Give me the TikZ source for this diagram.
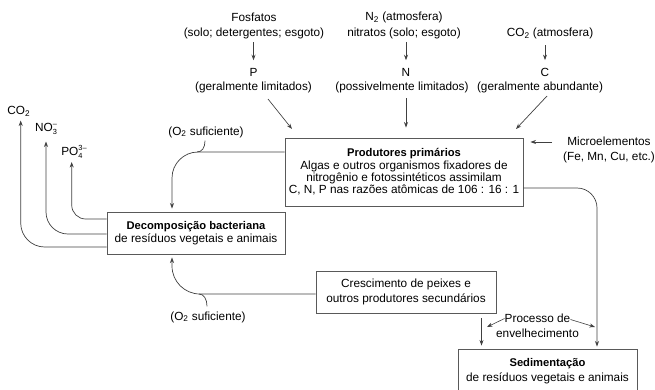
\documentclass[tikz,border=0pt]{standalone}
\usepackage{fontspec}
\setmainfont{Liberation Sans}
\usetikzlibrary{arrows.meta}
\newcommand\bhead[1]{{\fontsize{11.2}{12}\selectfont\bfseries #1}}
\newcommand\smallidx[1]{{\fontsize{7.4}{8}\selectfont #1}}
\newcommand\upidx[1]{\raisebox{5.3pt}{\smallidx{#1}}}
\newcommand\dnidx[1]{\raisebox{-3.4pt}{\smallidx{#1}}}
\begin{document}
\begin{tikzpicture}[x=1pt,y=-1pt,
  lbl/.style={align=center, inner sep=0pt, font=\fontsize{11.8}{15.5}\selectfont},
  box/.style={draw=black!65, line width=0.9pt, align=center, inner sep=0pt},
  arr/.style={draw=black!75, line width=0.7pt, -{Stealth[length=5.5pt,width=4pt]}},
  ln/.style={draw=black!75, line width=0.7pt}]
\useasboundingbox (0,0) rectangle (655,389);

% top sources
\node[lbl] (fos) at (254,26) {Fosfatos\\(solo; detergentes; esgoto)};
\node[lbl] (pl) at (253.5,72) {P};
\node[lbl] (pg) at (253.5,87.5) {(geralmente limitados)};
\node[lbl] (n2) at (404,25.5) {N\textsubscript{2} (atmosfera)\\nitratos (solo; esgoto)};
\node[lbl] (nl) at (406,72) {N};
\node[lbl] (ng) at (402,87.5) {(possivelmente limitados)};
\node[lbl] (co2a) at (550,33.5) {CO\textsubscript{2} (atmosfera)};
\node[lbl] (cl) at (545,72) {C};
\node[lbl] (cg) at (540,87.5) {(geralmente abundante)};

% boxes
\node[box, minimum width=238pt, minimum height=68pt, font=\fontsize{11.8}{12.4}\selectfont] (prod) at (404,172)
  {\bhead{Produtores primários}\\Algas e outros organismos fixadores de\\nitrogênio e fotossintéticos assimilam\\C, N, P nas razões atômicas de 106 : 16 : 1};
\node[box, minimum width=178pt, minimum height=42pt, font=\fontsize{11.8}{13.3}\selectfont] (dec) at (196,233)
  {\bhead{Decomposição bacteriana}\\de resíduos vegetais e animais};
\node[box, minimum width=180pt, minimum height=42pt, font=\fontsize{11.8}{15.7}\selectfont] (cres) at (406,292)
  {Crescimento de peixes e\\outros produtores secundários};
\node[box, minimum width=179pt, minimum height=44pt, font=\fontsize{11.8}{15}\selectfont] (sed) at (547.5,371)
  {\bhead{Sedimentação}\\de resíduos vegetais e animais};

% side labels
\node[lbl, font=\fontsize{11.8}{15}\selectfont] (micro) at (609,150) {Microelementos\\(Fe, Mn, Cu, etc.)};
\node[lbl] (o2a) at (206,132) {(O\textsubscript{2} suficiente)};
\node[lbl] (o2b) at (208,317) {(O\textsubscript{2} suficiente)};
\node[lbl] (co2) at (18.8,111.5) {CO\textsubscript{2}};
\node[lbl] (no3) at (46,129) {NO\rlap{\dnidx{3}}\upidx{–}};
\node[lbl] (po4) at (74,152) {PO\rlap{\dnidx{4}}\upidx{3–}};
\node[lbl] (proc1) at (537.5,318.5) {Processo de};
\node[lbl] (proc2) at (537.5,333.5) {envelhecimento};

% free ends
\coordinate (pa) at (268,99);
\coordinate (pb) at (292,129);
\coordinate (ca) at (547,96);
\coordinate (cb) at (516,129);
\coordinate (ma) at (552,142);
\coordinate (ha) at (197,152);
\coordinate (hb) at (199,294);
\coordinate (tco2) at (20.7,120.5);
\coordinate (tno3) at (46,141.5);
\coordinate (tpo4) at (71.7,162);
\coordinate (sx) at (597,0);
\coordinate (cs) at (481.5,318);
\coordinate (pla) at (487,327);
\coordinate (pra) at (595,327);

% top arrows
\draw[arr, shorten <=3pt, shorten >=7.5pt] (fos.south -| pl.north) -- (pl.north);
\draw[arr, shorten <=3pt, shorten >=7.5pt] (n2.south -| nl.north) -- (nl.north);
\draw[arr, shorten <=6pt, shorten >=7.5pt] (co2a.south -| cl.north) -- (cl.north);
\draw[arr] (pa) -- (pb);
\draw[arr, shorten <=5pt, shorten >=10pt] (ng.south -| nl.south) -- (nl.south |- prod.north);
\draw[arr] (ca) -- (cb);
\draw[arr, shorten >=7pt] (ma) -- (ma -| prod.east);

% oxygen loops
\draw[arr, rounded corners=26pt, shorten >=3pt] ([yshift=20pt]prod.west) -| ([xshift=-24pt]dec.north);
\draw[ln] ([xshift=-1pt,yshift=-3pt]o2a.south) .. controls +(0,7) and +(5,0) .. (ha);
\draw[arr, rounded corners=28pt, shorten >=3pt] ([yshift=-2pt]cres.west) -| ([xshift=-24pt]dec.south);
\draw[ln] ([xshift=-1pt,yshift=5pt]o2b.north) .. controls +(0,-7) and +(5,0) .. (hb);

% releases
\draw[arr, rounded corners=14pt] ([yshift=14pt]dec.west) -| (tpo4);
\draw[arr, rounded corners=22pt] ([yshift=-1pt]dec.west) -| (tno3);
\draw[arr, rounded corners=24pt] ([yshift=-14pt]dec.west) -| (tco2);

% sedimentation
\draw[arr, rounded corners=20pt, shorten >=2pt] ([yshift=-16pt]prod.east) -| (sed.north -| sx);
\draw[arr, shorten >=3pt] (cs) -- (cs |- sed.north);
\draw[arr, line width=0.6pt] (proc1.west) -- (pla);
\draw[arr, line width=0.6pt] ([yshift=-1pt]proc1.east) -- (pra);
\end{tikzpicture}
\end{document}
